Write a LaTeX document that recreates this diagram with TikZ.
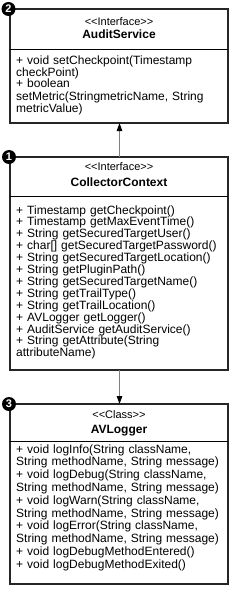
\documentclass[tikz,border=0pt]{standalone}
\usepackage{fontspec}
\setmainfont{Liberation Sans}
\usetikzlibrary{arrows.meta}
\tikzset{
  umlbox/.style={draw=black!85, line width=1.5pt},
  sepline/.style={draw=black, line width=0.9pt},
  stereo/.style={anchor=base, inner sep=0pt, font=\fontsize{11}{12}\selectfont},
  cname/.style={anchor=base, inner sep=0pt, font=\fontsize{12}{12}\selectfont\bfseries},
  body/.style={anchor=base west, inner sep=0pt, text width=212pt, align=left},
  badge/.style={circle, fill=black, inner sep=0pt, minimum size=14pt, text=white, font=\fontsize{11}{11}\selectfont\bfseries},
  conn/.style={draw=black!50, line width=1pt, -{Triangle[length=8pt,width=5.5pt,color=black]}}
}
\begin{document}
\begin{tikzpicture}[x=1pt,y=-1pt]
\useasboundingbox (0,0) rectangle (234,594);
% Box 1: AuditService
\draw[umlbox] (10,9) rectangle (228,123);
\draw[sepline] (10,49) -- (228,49);
\node[stereo] (s1) at (119,26) {<{}<Interface>{}>};
\node[cname] (n1) at (119,39) {AuditService};
\node[body, font=\fontsize{12}{12}\selectfont] (b1) at (16,64) {+ void setCheckpoint(Timestamp\\checkPoint)\\+ boolean\\setMetric(StringmetricName, String\\metricValue)};
\coordinate (a1bot) at (119.5,123);
% Box 2: CollectorContext
\draw[umlbox] (10,157) rectangle (228,370);
\draw[sepline] (10,196) -- (228,196);
\node[stereo] (s2) at (119,170) {<{}<Interface>{}>};
\node[cname] (n2) at (119,186) {CollectorContext};
\node[body, font=\fontsize{12}{11.9}\selectfont] (b2) at (16,214) {+ Timestamp getCheckpoint()\\+ Timestamp getMaxEventTime()\\+ String getSecuredTargetUser()\\+ char[] getSecuredTargetPassword()\\+ String getSecuredTargetLocation()\\+ String getPluginPath()\\+ String getSecuredTargetName()\\+ String getTrailType()\\+ String getTrailLocation()\\+ AVLogger getLogger()\\+ AuditService getAuditService()\\+ String getAttribute(String\\attributeName)};
\coordinate (a2top) at (119.5,157);
\coordinate (a2bot) at (119.5,370);
% Box 3: AVLogger
\draw[umlbox] (10,404) rectangle (228,584);
\draw[sepline] (10,441) -- (228,441);
\node[stereo] (s3) at (119,418) {<{}<Class>{}>};
\node[cname] (n3) at (119,433) {AVLogger};
\node[body, font=\fontsize{12}{12.8}\selectfont] (b3) at (16,453) {+ void logInfo(String className,\\String methodName, String message)\\+ void logDebug(String className,\\String methodName, String message)\\+ void logWarn(String className,\\String methodName, String message)\\+ void logError(String className,\\String methodName, String message)\\+ void logDebugMethodEntered()\\+ void logDebugMethodExited()};
\coordinate (a3top) at (119.5,404);
% Connectors
\draw[conn] (a2top) -- (a1bot);
\draw[conn] (a2bot) -- (a3top);
% Badges
\node[badge] (c2) at (8.5,9) {2};
\node[badge] (c1) at (9,157) {1};
\node[badge] (c3) at (9,404) {3};
\end{tikzpicture}
\end{document}
